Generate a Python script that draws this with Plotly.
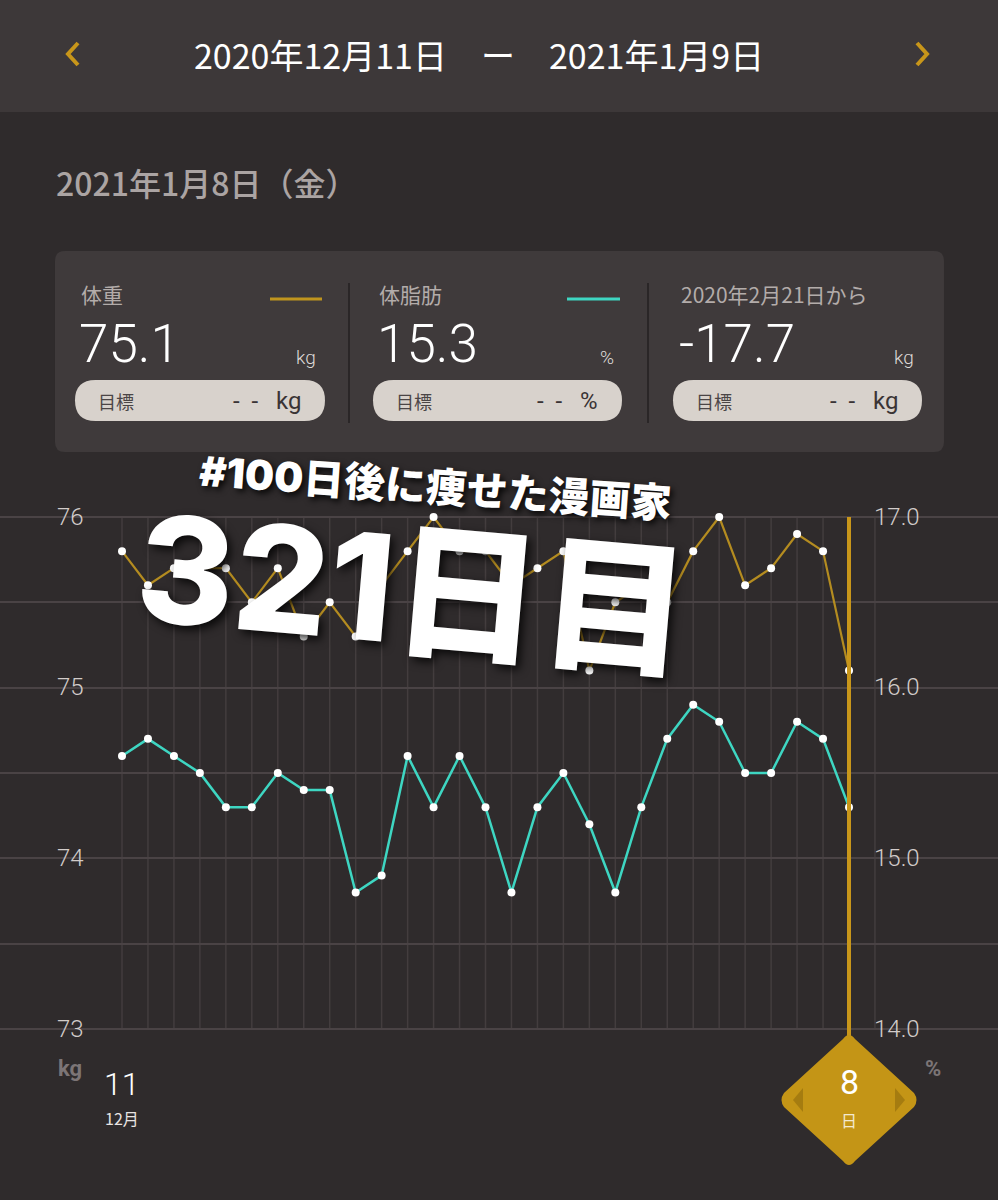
import plotly.graph_objects as go
import pandas as pd

# ---------------- data ----------------
start_date = "2020-12-11"
n_days = 29
weight_kg = [75.8, 75.6, 75.7, 75.7, 75.7, 75.5, 75.7, 75.3, 75.5, 75.3,
             75.6, 75.8, 76.0, 75.8, 75.8, 75.6, 75.7, 75.8, 75.1, 75.5,
             75.6, 75.5, 75.8, 76.0, 75.6, 75.7, 75.9, 75.8, 75.1]
body_fat_pct = [15.6, 15.7, 15.6, 15.5, 15.3, 15.3, 15.5, 15.4, 15.4, 14.8,
                14.9, 15.6, 15.3, 15.6, 15.3, 14.8, 15.3, 15.5, 15.2, 14.8,
                15.3, 15.7, 15.9, 15.8, 15.5, 15.5, 15.8, 15.7, 15.3]
weight_ticks = [76, 75, 74, 73]
fat_ticks = ["17.0", "16.0", "15.0", "14.0"]
header_text = "2020年12月11日　ー　2021年1月9日"
selected_date_text = "2021年1月8日（金）"
card_titles = ["体重", "体脂肪", "2020年2月21日から"]
card_values = ["75.1", "15.3", "-17.7"]
card_units = ["kg", "%", "kg"]
goal_label = "目標"

dates = pd.date_range(start_date, periods=n_days, freq="D")
grid_dates = pd.date_range(start_date, periods=n_days + 1, freq="D")

W, H = 998, 1200
BG = "#2f2b2c"
HEADER = "#3d3839"
CARD = "#3f3a3b"
PILL = "#d8d2cc"
GOLD = "#c8961a"
WLINE = "#b48c20"
TEAL = "#3ed6c2"


def px(x, y):
    return x / W, 1 - y / H


def rrect(x0, y0, x1, y1, r):
    pts = [("M", [(x0 + r, y0)]), ("L", [(x1 - r, y0)]), ("Q", [(x1, y0), (x1, y0 + r)]),
           ("L", [(x1, y1 - r)]), ("Q", [(x1, y1), (x1 - r, y1)]), ("L", [(x0 + r, y1)]),
           ("Q", [(x0, y1), (x0, y1 - r)]), ("L", [(x0, y0 + r)]), ("Q", [(x0, y0), (x0 + r, y0)])]
    s = ""
    for cmd, ps in pts:
        s += cmd + " " + " ".join("%.5f,%.5f" % px(a, b) for a, b in ps) + " "
    return s + "Z"


def poly(points, close=True):
    s = "M " + " L ".join("%.5f,%.5f" % px(a, b) for a, b in points)
    return s + (" Z" if close else "")


# x-range so that day 0 -> 122px, day 28 -> 849px
step = (849 - 122) / 28
base = pd.Timestamp(start_date)
x_lo = base + pd.Timedelta(days=-122 / step)
x_hi = base + pd.Timedelta(days=(W - 122) / step)
ppu = (1029 - 517) / 3
y_hi = 76 + 517 / ppu
y_lo = 76 - (H - 517) / ppu

fig = go.Figure()
fig.add_trace(go.Scatter(x=dates, y=body_fat_pct, yaxis="y2", mode="lines+markers",
                         line=dict(color=TEAL, width=2.5),
                         marker=dict(color="white", size=8), hoverinfo="skip"))
fig.add_trace(go.Scatter(x=dates, y=weight_kg, mode="lines+markers",
                         line=dict(color=WLINE, width=2.2),
                         marker=dict(color="white", size=8), hoverinfo="skip"))

shapes = []
# header
shapes.append(dict(type="rect", xref="paper", yref="paper", x0=0, x1=1, y0=px(0, 112)[1], y1=1,
                   fillcolor=HEADER, line=dict(width=0), layer="below"))
# chevrons
shapes.append(dict(type="path", xref="paper", yref="paper", path=poly([(78, 43), (68, 54), (78, 65)], False),
                   line=dict(color=GOLD, width=4), layer="above"))
shapes.append(dict(type="path", xref="paper", yref="paper", path=poly([(917, 43), (927, 54), (917, 65)], False),
                   line=dict(color=GOLD, width=4), layer="above"))
# card
shapes.append(dict(type="path", xref="paper", yref="paper", path=rrect(55, 251, 944, 452, 10),
                   fillcolor=CARD, line=dict(width=0), layer="below"))
for xd in (349, 648):
    shapes.append(dict(type="line", xref="paper", yref="paper", x0=xd / W, x1=xd / W,
                       y0=px(0, 283)[1], y1=px(0, 423)[1], line=dict(color="#2a2627", width=2), layer="below"))
col_x = [80, 378, 680]
pill_x = [(75, 325), (373, 622), (673, 922)]
for (a, b) in pill_x:
    shapes.append(dict(type="path", xref="paper", yref="paper", path=rrect(a, 380, b, 421, 20.5),
                       fillcolor=PILL, line=dict(width=0), layer="below"))
# legend swatches
shapes.append(dict(type="line", xref="paper", yref="paper", x0=270 / W, x1=322 / W,
                   y0=px(0, 299)[1], y1=px(0, 299)[1], line=dict(color="#c0951e", width=3)))
shapes.append(dict(type="line", xref="paper", yref="paper", x0=567 / W, x1=620 / W,
                   y0=px(0, 299)[1], y1=px(0, 299)[1], line=dict(color=TEAL, width=3)))
# vertical day grid lines
for d in grid_dates:
    shapes.append(dict(type="line", xref="x", yref="y", x0=d, x1=d, y0=73, y1=76,
                       line=dict(color="#433d3e", width=1.5), layer="below"))
# selection line
sel = dates[-1]
shapes.append(dict(type="line", xref="x", yref="paper", x0=sel, x1=sel,
                   y0=px(0, 1040)[1], y1=px(0, 517)[1], line=dict(color=GOLD, width=4), layer="above"))
# diamond marker
cx = 849
dia = (f"M {px(cx - 6, 1039)[0]:.5f},{px(cx - 6, 1039)[1]:.5f} "
       f"Q {px(cx, 1031)[0]:.5f},{px(cx, 1031)[1]:.5f} {px(cx + 6, 1039)[0]:.5f},{px(cx + 6, 1039)[1]:.5f} "
       f"L {px(914, 1093)[0]:.5f},{px(914, 1093)[1]:.5f} "
       f"Q {px(919, 1100)[0]:.5f},{px(919, 1100)[1]:.5f} {px(914, 1107)[0]:.5f},{px(914, 1107)[1]:.5f} "
       f"L {px(cx + 6, 1161)[0]:.5f},{px(cx + 6, 1161)[1]:.5f} "
       f"Q {px(cx, 1169)[0]:.5f},{px(cx, 1169)[1]:.5f} {px(cx - 6, 1161)[0]:.5f},{px(cx - 6, 1161)[1]:.5f} "
       f"L {px(784, 1107)[0]:.5f},{px(784, 1107)[1]:.5f} "
       f"Q {px(779, 1100)[0]:.5f},{px(779, 1100)[1]:.5f} {px(784, 1093)[0]:.5f},{px(784, 1093)[1]:.5f} Z")
shapes.append(dict(type="path", xref="paper", yref="paper", path=dia,
                   fillcolor="#c49516", line=dict(width=0), layer="above"))
shapes.append(dict(type="path", xref="paper", yref="paper", path=poly([(803, 1088), (793, 1100), (803, 1112)]),
                   fillcolor="#a57c10", line=dict(width=0), layer="above"))
shapes.append(dict(type="path", xref="paper", yref="paper", path=poly([(895, 1088), (905, 1100), (895, 1112)]),
                   fillcolor="#a57c10", line=dict(width=0), layer="above"))

ann = []


def text(x, y, s, size, color, xanchor="left", family="Noto Sans CJK JP", weight=400, **kw):
    xp, yp = px(x, y)
    ann.append(dict(xref="paper", yref="paper", x=xp, y=yp, text=s, showarrow=False,
                    xanchor=xanchor, yanchor="middle",
                    font=dict(size=size, color=color, family=family, weight=weight), **kw))


CJK = "Noto Sans CJK JP"
text(479, 55, header_text, 34, "white", "center", CJK)
text(54, 182, selected_date_text, 32, "#aba4a3", "left", CJK, 500)
for i in range(3):
    x0 = col_x[i]
    text(x0 - 1, 294, card_titles[i], 21, "#b3acaa", "left", CJK)
    text(x0 - 3, 344, card_values[i], 53, "white", "left", "Roboto", 300)
    ux = [318, 616, 916][i]
    text(ux, 357, card_units[i], 19, "#dedad8", "right", "Roboto", 300)
    text(pill_x[i][0] + 21, 401, goal_label, 18, "#4b4546", "left", CJK)
    text(pill_x[i][1] - 22, 401, "-&nbsp;&nbsp;-&nbsp;&nbsp;&nbsp;" + card_units[i], 24, "#3a3435",
         "right", "Roboto", 400)

# axis labels
ys = [517, 687, 858, 1029]
for v, f, yy in zip(weight_ticks, fat_ticks, ys):
    text(70, yy, str(v), 24, "#d2ccca", "center", "Roboto", 300)
    text(897, yy, f, 24, "#d2ccca", "center", "Roboto", 300)
text(70, 1068, "kg", 22, "#7c7576", "center", "Roboto", 700)
text(933, 1068, "%", 22, "#7c7576", "center", "Roboto", 700)
text(122, 1084, "11", 32, "white", "center", "Roboto", 300)
text(122, 1118, "12月", 16, "#e8e4e2", "center", CJK)
text(849, 1082, "8", 34, "white", "center", "Roboto", 400)
text(849, 1120, "日", 16, "#f3e9cf", "center", CJK)

# overlay title
shadow = "3px 3px 6px rgba(0,0,0,0.85)"
xp, yp = px(435, 487)
ann.append(dict(xref="paper", yref="paper", x=xp, y=yp, text="#100日後に痩せた漫画家", showarrow=False,
                xanchor="center", yanchor="middle", textangle=4,
                font=dict(size=41, color="white", family="Inter, Noto Sans CJK JP", weight=900, shadow=shadow)))
xp, yp = px(413, 590)
ann.append(dict(xref="paper", yref="paper", x=xp, y=yp, text="321日目", showarrow=False,
                xanchor="center", yanchor="middle", textangle=5,
                font=dict(size=148, color="white", family="Inter, Noto Sans CJK JP", weight=800,
                          shadow="4px 4px 10px rgba(0,0,0,0.8)")))

fig.update_layout(
    width=W, height=H, autosize=False,
    margin=dict(l=0, r=0, t=0, b=0),
    paper_bgcolor=BG, plot_bgcolor=BG,
    showlegend=False,
    xaxis=dict(range=[x_lo, x_hi], showgrid=False, zeroline=False, showticklabels=False,
               showline=False, domain=[0, 1], fixedrange=True),
    yaxis=dict(range=[y_lo, y_hi], tickvals=[73, 73.5, 74, 74.5, 75, 75.5, 76], showgrid=True,
               gridcolor="#4a4345", gridwidth=2, zeroline=False, showticklabels=False,
               domain=[0, 1], fixedrange=True),
    yaxis2=dict(range=[y_lo - 59, y_hi - 59], overlaying="y", visible=False, showgrid=False,
                fixedrange=True),
    shapes=shapes,
    annotations=ann,
)

fig.write_html("out.html", config={"displayModeBar": False, "staticPlot": True},
               post_script="document.body.style.margin='0';document.body.style.background='%s';" % BG)
